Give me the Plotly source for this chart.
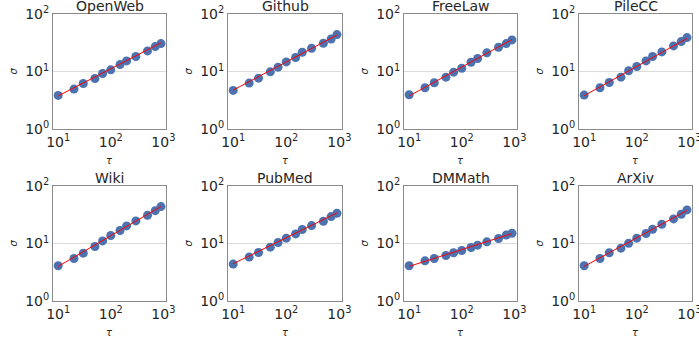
import plotly.graph_objects as go

W, H = 699, 345

tau = [10, 20, 30, 50, 70, 100, 150, 200, 300, 500, 700, 900]
names = ["OpenWeb", "Github", "FreeLaw", "PileCC", "Wiki", "PubMed", "DMMath", "ArXiv"]

sigma_openweb = [3.84, 4.94, 6.19, 7.56, 9.23, 10.7, 13.2, 15.3, 18.2, 22.8, 27.1, 30.6]
sigma_github = [4.69, 6.28, 7.66, 9.87, 11.9, 14.7, 17.5, 21.6, 25.4, 31.0, 36.8, 43.8]
sigma_freelaw = [3.94, 5.21, 6.36, 7.97, 9.73, 11.4, 14.5, 16.8, 21.1, 26.4, 30.6, 35.4]
sigma_pilecc = [3.89, 5.21, 6.44, 7.97, 10.3, 12.2, 15.3, 18.2, 21.9, 27.9, 33.1, 38.9]
sigma_wiki = [4.10, 5.49, 6.80, 8.87, 11.1, 13.8, 16.8, 20.2, 24.7, 31.0, 37.3, 43.8]
sigma_pubmed = [4.38, 5.80, 6.98, 8.64, 10.4, 12.4, 14.7, 17.5, 20.5, 24.4, 29.4, 33.6]
sigma_dmmath = [4.10, 5.00, 5.49, 6.19, 6.89, 7.56, 8.53, 9.35, 10.7, 12.2, 14.0, 15.1]
sigma_arxiv = [4.10, 5.49, 6.89, 8.30, 10.1, 12.4, 14.9, 17.7, 21.6, 26.8, 32.3, 38.4]

series = [sigma_openweb, sigma_github, sigma_freelaw, sigma_pilecc,
          sigma_wiki, sigma_pubmed, sigma_dmmath, sigma_arxiv]

# fitted power-law line, read at tau = 10 and tau = 900
fit_tau = [10, 900]
fit_start = [3.76, 4.75, 3.75, 3.80, 4.00, 4.45, 4.00, 4.00]
fit_end = [31.5, 43.0, 36.0, 37.5, 44.0, 34.0, 14.9, 37.5]

x_ticks = [10, 100, 1000]
x_ticktext = ["10<sup>1</sup>", "10<sup>2</sup>", "10<sup>3</sup>"]
y_ticks = [1, 10, 100]
y_ticktext = ["10<sup>0</sup>", "10<sup>1</sup>", "10<sup>2</sup>"]

cols_px = [(53, 166), (228, 342), (404, 517), (579, 692)]
rows_px = [(14, 129), (186, 301)]

FONT = "DejaVu Sans"
TXT = "#262626"
BLUE = "#4C72B0"

fig = go.Figure()
layout = dict(
    width=W, height=H,
    margin=dict(l=0, r=0, t=0, b=0, autoexpand=False),
    paper_bgcolor="white", plot_bgcolor="white",
    showlegend=False,
    font=dict(family=FONT, size=14, color=TXT),
)
annotations = []

for i, name in enumerate(names):
    r, c = divmod(i, 4)
    x0, x1 = cols_px[c]
    y0, y1 = rows_px[r]
    xd = [x0 / W, x1 / W]
    yd = [1 - y1 / H, 1 - y0 / H]
    k = i + 1
    xa = "x" if k == 1 else f"x{k}"
    ya = "y" if k == 1 else f"y{k}"
    fig.add_trace(go.Scatter(
        x=tau, y=series[i], mode="markers",
        marker=dict(color=BLUE, size=9, line=dict(width=0)),
        xaxis=xa, yaxis=ya))
    fig.add_trace(go.Scatter(
        x=fit_tau, y=[fit_start[i], fit_end[i]], mode="lines",
        line=dict(color="red", width=1),
        xaxis=xa, yaxis=ya))
    axcommon = dict(showline=True, mirror=True, linecolor="#8a8a8a", linewidth=1,
                    ticks="", zeroline=False, automargin=False,
                    ticklabeloverflow="allow",
                    tickfont=dict(family=FONT, size=14, color=TXT))
    layout["xaxis" if k == 1 else f"xaxis{k}"] = dict(
        domain=xd, type="log", range=[0.902, 3.05], anchor=ya,
        tickvals=x_ticks, ticktext=x_ticktext, showgrid=False, **axcommon)
    layout["yaxis" if k == 1 else f"yaxis{k}"] = dict(
        domain=yd, type="log", range=[0, 2], anchor=xa,
        tickvals=y_ticks, ticktext=y_ticktext, showgrid=True,
        gridcolor="#dcdcdc", gridwidth=1, **axcommon)
    xc = (x0 + x1) / 2 / W
    annotations.append(dict(text=name, x=xc, y=1 - (y0 - 8) / H, xref="paper", yref="paper",
                            xanchor="center", yanchor="middle", showarrow=False,
                            font=dict(family=FONT, size=14, color=TXT)))
    annotations.append(dict(text="<i>τ</i>", x=xc, y=1 - (y1 + 31) / H, xref="paper", yref="paper",
                            xanchor="center", yanchor="middle", showarrow=False,
                            font=dict(family=FONT, size=10, color=TXT)))
    annotations.append(dict(text="<i>σ</i>", x=(x0 - 40) / W, y=1 - ((y0 + y1) / 2) / H,
                            xref="paper", yref="paper", textangle=-90,
                            xanchor="center", yanchor="middle", showarrow=False,
                            font=dict(family=FONT, size=10, color=TXT)))

layout["annotations"] = annotations
fig.update_layout(**layout)
fig.write_html("out.html", config={"displayModeBar": False},
               post_script="document.body.style.margin='0';document.body.style.padding='0';")
